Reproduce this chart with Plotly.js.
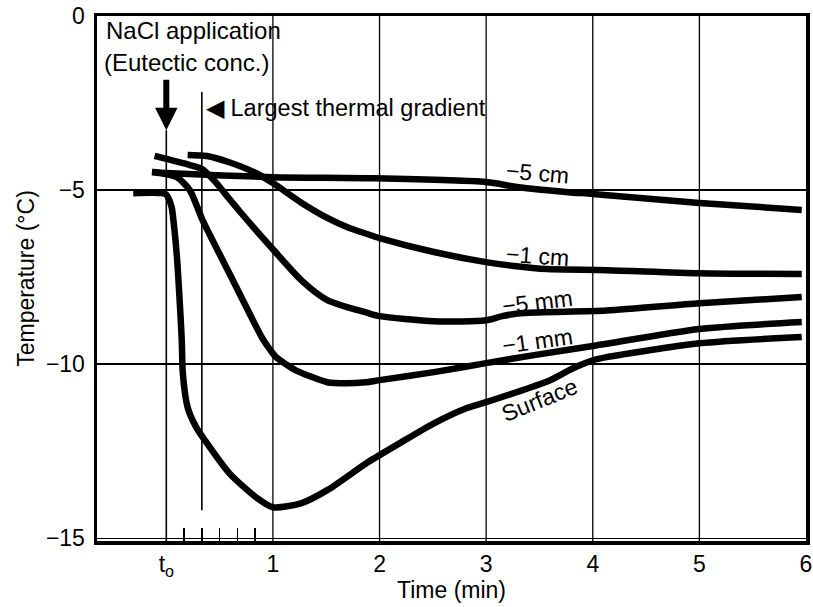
<!DOCTYPE html>
<html><head><meta charset="utf-8">
<script src="https://cdn.plot.ly/plotly-3.0.1.min.js"></script>
<style>html,body{margin:0;padding:0;background:#fff;}#chart{width:813px;height:607px;}</style>
</head><body><div id="chart"></div>
<script>
// ---- Data (time in minutes after t_o, temperature in °C) ----
const surfaceTime = [-0.31, -0.01, 0.015, 0.05, 0.07, 0.10, 0.125, 0.145, 0.155, 0.20, 0.28, 0.36, 0.59, 0.84, 1.0, 1.27, 1.51, 1.89, 2.19, 2.51, 2.82, 3.0, 3.29, 3.6, 3.82, 4.0, 4.13, 5.0, 5.96];
const surfaceTemp = [-5.09, -5.11, -5.20, -5.49, -5.95, -6.93, -8.16, -9.31, -10.26, -11.24, -11.81, -12.18, -13.13, -13.82, -14.11, -13.99, -13.62, -12.82, -12.27, -11.70, -11.26, -11.09, -10.80, -10.46, -10.11, -9.89, -9.80, -9.40, -9.22];

const mm1Time = [-0.13, 0.0, 0.10, 0.22, 0.34, 0.59, 0.90, 0.97, 1.03, 1.12, 1.21, 1.51, 1.69, 1.87, 2.0, 2.51, 3.0, 3.45, 4.0, 5.0, 5.96];
const mm1Temp = [-4.48, -4.54, -4.63, -5.00, -5.86, -7.38, -9.25, -9.57, -9.80, -10.00, -10.17, -10.52, -10.55, -10.52, -10.46, -10.23, -9.97, -9.74, -9.48, -8.99, -8.79];

const mm5Time = [-0.11, 0.22, 0.34, 0.47, 0.59, 0.68, 0.84, 1.0, 1.27, 1.51, 1.89, 2.0, 2.51, 3.0, 3.15, 3.35, 4.13, 5.0, 5.96];
const mm5Temp = [-4.02, -4.28, -4.40, -4.80, -5.25, -5.58, -6.15, -6.70, -7.60, -8.16, -8.53, -8.62, -8.77, -8.74, -8.62, -8.53, -8.46, -8.25, -8.07];

const cm1Time = [0.20, 0.38, 0.59, 0.84, 1.0, 1.27, 1.51, 1.70, 1.89, 2.0, 2.51, 3.0, 3.26, 3.57, 4.13, 5.0, 5.96];
const cm1Temp = [-3.99, -4.02, -4.20, -4.51, -4.80, -5.37, -5.80, -6.07, -6.27, -6.38, -6.78, -7.07, -7.18, -7.27, -7.30, -7.39, -7.41];

const cm5Time = [-0.135, 0.0, 1.0, 1.89, 3.0, 3.29, 3.77, 4.0, 5.0, 5.96];
const cm5Temp = [-4.48, -4.51, -4.63, -4.66, -4.77, -4.91, -5.06, -5.11, -5.37, -5.57];

const seriesNames = ['Surface', '−1 mm', '−5 mm', '−1 cm', '−5 cm'];

// curve labels (time, temp, angle)
const labelTexts = ['−5 cm', '−1 cm', '−5 mm', '−1 mm', 'Surface'];
const labelTime = [3.48, 3.48, 3.48, 3.48, 3.5];
const labelTemp = [-4.51, -6.90, -8.22, -9.34, -11.03];
const labelAngle = [5, 4, -7, -8, -22];

// axes
const xTickVals = [0, 1, 2, 3, 4, 5, 6];
const xTickText = ['t<sub>o</sub>', '1', '2', '3', '4', '5', '6'];
const yTickVals = [-15, -10, -5, 0];
const yTickText = ['−15', '−10', '−5', '0'];
const minorTickVals = [1/6, 2/6, 3/6, 4/6, 5/6];
const gridTimes = [1, 2, 3, 4, 5];
const naclTime = 0;          // t_o : NaCl application
const naclArrowTemp = -3.28; // arrow tip
const gradientTime = 1/3;    // largest thermal gradient
const gradientTop = -2.18, gradientBottom = -14.2;

const FONT = 'Liberation Sans, Arial, Helvetica, sans-serif';
const xs = [surfaceTime, mm1Time, mm5Time, cm1Time, cm5Time];
const ys = [surfaceTemp, mm1Temp, mm5Temp, cm1Temp, cm5Temp];

const traces = xs.map((x, i) => ({
  x: x, y: ys[i], name: seriesNames[i], type: 'scatter', mode: 'lines',
  line: {color: '#000', width: 6.5, shape: 'spline', smoothing: 0.7},
  hoverinfo: 'x+y+name'
}));

const shapes = gridTimes.map(t => ({
  type: 'line', xref: 'x', yref: 'paper', x0: t, x1: t, y0: 0, y1: 1,
  line: {color: '#000', width: 1.3}, layer: 'below'
}));
shapes.push({type: 'line', xref: 'x', yref: 'y', x0: naclTime, x1: naclTime, y0: naclArrowTemp, y1: -15.08,
  line: {color: '#000', width: 1.6}, layer: 'below'});
shapes.push({type: 'line', xref: 'x', yref: 'y', x0: gradientTime, x1: gradientTime, y0: gradientTop, y1: gradientBottom,
  line: {color: '#000', width: 1.6}, layer: 'below'});

const annotations = labelTexts.map((t, i) => ({
  x: labelTime[i], y: labelTemp[i], xref: 'x', yref: 'y', text: t, showarrow: false,
  textangle: labelAngle[i], font: {family: FONT, size: 23, color: '#000'}
}));
annotations.push({x: -0.585, y: -0.43, xref: 'x', yref: 'y', text: 'NaCl application', showarrow: false,
  xanchor: 'left', yanchor: 'middle', font: {family: FONT, size: 24, color: '#000'}});
annotations.push({x: -0.6, y: -1.33, xref: 'x', yref: 'y', text: '(Eutectic conc.)', showarrow: false,
  xanchor: 'left', yanchor: 'middle', font: {family: FONT, size: 24, color: '#000'}});
annotations.push({x: naclTime, y: naclArrowTemp, xref: 'x', yref: 'y', text: '', showarrow: true,
  ax: 0, ay: -52, arrowhead: 2, arrowwidth: 6, arrowsize: 0.75, arrowcolor: '#000', standoff: 0});
annotations.push({x: 0.355, y: -2.64, xref: 'x', yref: 'y', text: '◀ Largest thermal gradient', showarrow: false,
  xanchor: 'left', yanchor: 'middle', font: {family: FONT, size: 23.5, color: '#000'}});

const layout = {
  width: 813, height: 607,
  margin: {l: 97, r: 7, t: 16, b: 66},
  paper_bgcolor: '#fff', plot_bgcolor: '#fff',
  showlegend: false,
  font: {family: FONT, color: '#000'},
  xaxis: {
    range: [-0.65, 6], tickmode: 'array', tickvals: xTickVals, ticktext: xTickText,
    showgrid: false, zeroline: false, ticks: '',
    showline: true, linecolor: '#000', linewidth: 3.5, mirror: true,
    tickfont: {family: FONT, size: 23, color: '#000'},
    title: {text: 'Time (min)', font: {family: FONT, size: 23, color: '#000'}, standoff: 0},
    minor: {tickvals: minorTickVals, ticks: 'inside', ticklen: 13, tickwidth: 1.5, tickcolor: '#000', showgrid: false}
  },
  yaxis: {
    range: [-15.08, 0], tickmode: 'array', tickvals: yTickVals, ticktext: yTickText,
    showgrid: true, gridcolor: '#000', gridwidth: 1.3, zeroline: false, ticks: '',
    showline: true, linecolor: '#000', linewidth: 3.5, mirror: true,
    ticklabelstandoff: 4,
    tickfont: {family: FONT, size: 23, color: '#000'},
    title: {text: 'Temperature (°C)', font: {family: FONT, size: 23, color: '#000'}, standoff: 6}
  },
  shapes: shapes,
  annotations: annotations
};

Plotly.newPlot('chart', traces, layout, {displayModeBar: false, staticPlot: true});
</script>
</body></html>
